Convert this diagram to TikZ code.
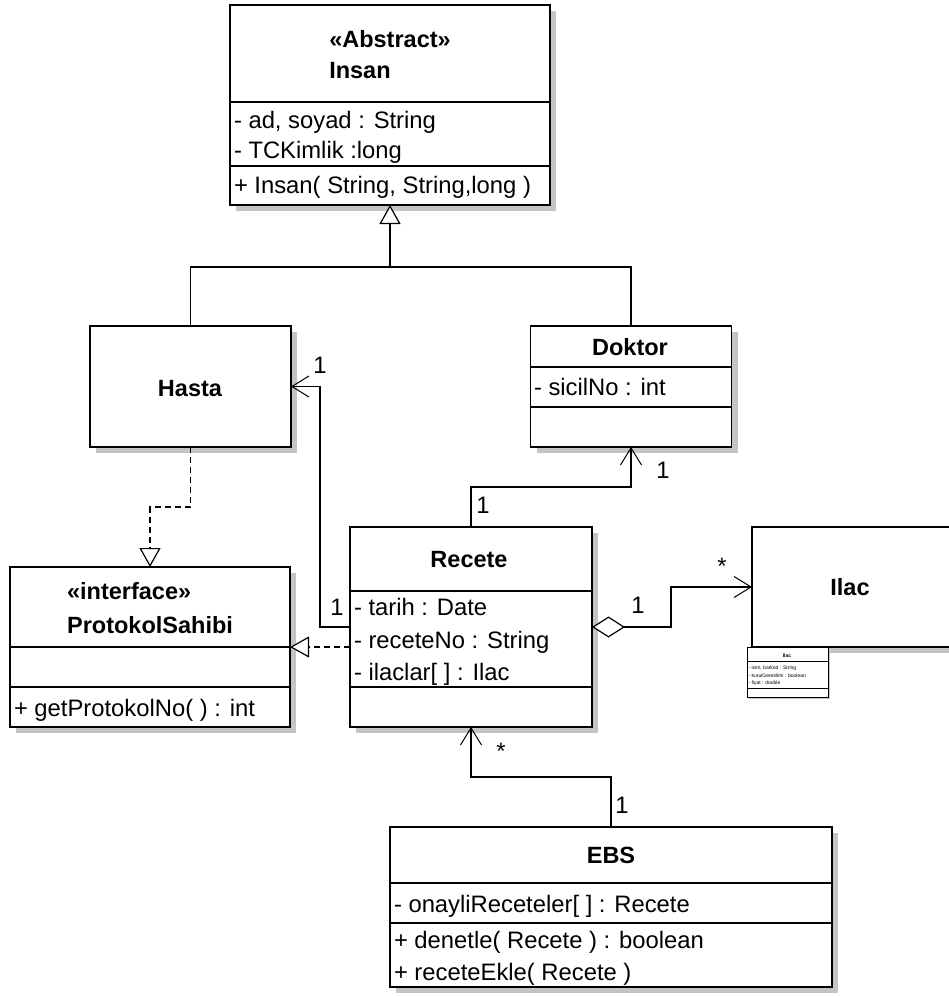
\documentclass[tikz,border=0pt]{standalone}
\usepackage{fontspec}
\setmainfont{Liberation Sans}
\usetikzlibrary{arrows.meta,shadows,calc}
\definecolor{shadowgray}{RGB}{196,196,196}
\tikzset{
  every node/.style={inner sep=0pt, outer sep=0pt},
  txt/.style={font=\fontsize{23.8}{27}\selectfont},
  hdr/.style={font=\bfseries\fontsize{23.5}{27}\selectfont},
  tiny/.style={font=\fontsize{5}{6}\selectfont},
  tinyb/.style={font=\bfseries\fontsize{5}{6}\selectfont},
  cls/.style={draw, line width=1.6pt, fill=white, rectangle,
    drop shadow={shadow xshift=6pt, shadow yshift=-6pt, fill=shadowgray, opacity=1}},
  divline/.style={line width=1.4pt},
  conn/.style={line width=1.3pt},
  dashconn/.style={line width=1.3pt, dash pattern=on 6pt off 4pt},
  navarrow/.style={-{Straight Barb[length=17pt,width=21pt,line width=1pt]}},
  genarrow/.style={-{Triangle[open,length=19pt,width=21pt,fill=white,line width=1.2pt]}},
  aggnav/.style={{Diamond[open,length=33pt,width=21pt,fill=white,line width=1.2pt]}-{Straight Barb[length=17pt,width=21pt,line width=1pt]}}
}
\begin{document}
\begin{tikzpicture}[x=1pt,y=-1pt]
\useasboundingbox (0,0) rectangle (948,996);

% ---------- boxes ----------
\node[cls, minimum width=320pt, minimum height=200pt] (insan) at (390,105) {};
\node[cls, minimum width=201pt, minimum height=121pt] (hasta) at (190.5,386.5) {};
\node[cls, minimum width=201pt, minimum height=121pt] (doktor) at (631,386.5) {};
\node[cls, minimum width=280pt, minimum height=160pt] (protokol) at (150,647) {};
\node[cls, minimum width=242pt, minimum height=200pt] (recete) at (471,627) {};
\node[cls, minimum width=204pt, minimum height=120pt] (ilac) at (854,587) {};
\node[cls, minimum width=442pt, minimum height=160pt] (ebs) at (611,907) {};
\node[draw, line width=0.7pt, fill=white, minimum width=81pt, minimum height=50pt,
  drop shadow={shadow xshift=2pt, shadow yshift=-2pt, fill=shadowgray, opacity=1}] (ilacmini) at (787.5,672) {};

% ---------- dividers ----------
\draw[divline] (insan.west |- 0,102) -- (insan.east |- 0,102);
\draw[divline] (insan.west |- 0,166) -- (insan.east |- 0,166);
\draw[divline] (doktor.west |- 0,367) -- (doktor.east |- 0,367);
\draw[divline] (doktor.west |- 0,407) -- (doktor.east |- 0,407);
\draw[divline] (protokol.west |- 0,647) -- (protokol.east |- 0,647);
\draw[divline] (protokol.west |- 0,687) -- (protokol.east |- 0,687);
\draw[divline] (recete.west |- 0,591) -- (recete.east |- 0,591);
\draw[divline] (recete.west |- 0,687) -- (recete.east |- 0,687);
\draw[divline] (ebs.west |- 0,883) -- (ebs.east |- 0,883);
\draw[divline] (ebs.west |- 0,923) -- (ebs.east |- 0,923);
\draw[line width=0.5pt] (ilacmini.west |- 0,661) -- (ilacmini.east |- 0,661);
\draw[line width=0.5pt] (ilacmini.west |- 0,688) -- (ilacmini.east |- 0,688);

% ---------- Insan ----------
\node[hdr, anchor=base] (abs) at (390,47) {«Abstract»};
\node[hdr, anchor=base west] (insanname) at ($(abs.base west)+(0,31)$) {Insan};
\node[txt, anchor=base west] (i1) at (234,128) {- ad, soyad : String};
\node[txt, anchor=base west] (i2) at (234,158) {- TCKimlik :long};
\node[txt, anchor=base west] (i3) at (234,193) {+ Insan( String, String,long )};

% ---------- Hasta ----------
\node[hdr, anchor=base] (hastaname) at (190,396) {Hasta};

% ---------- Doktor ----------
\node[hdr, anchor=base] (doktorname) at (630,355) {Doktor};
\node[txt, anchor=base west] (d1) at (534,395) {- sicilNo : int};

% ---------- ProtokolSahibi ----------
\node[hdr, anchor=base] (psname) at (150,633) {ProtokolSahibi};
\node[hdr, anchor=base west] (psst) at ($(psname.base west)+(0,-34)$) {«interface»};
\node[txt, anchor=base west] (p1) at (14,716) {+ getProtokolNo( ) : int};

% ---------- Recete ----------
\node[hdr, anchor=base] (recetename) at (469,567) {Recete};
\node[txt, anchor=base west] (r1) at (354,615) {- tarih : Date};
\node[txt, anchor=base west] (r2) at (354,648) {- receteNo : String};
\node[txt, anchor=base west] (r3) at (354,680) {- ilaclar[ ] : Ilac};

% ---------- Ilac ----------
\node[hdr, anchor=base] (ilacname) at (850,595) {Ilac};
\node[tinyb, anchor=base] (mininame) at (787,657) {Ilac};
\node[tiny, anchor=base west] (m1) at (748.5,669.5) {- isim, barkod : String};
\node[tiny, anchor=base west] (m2) at (748.5,677) {- kurulGereklimi : boolean};
\node[tiny, anchor=base west] (m3) at (748.5,684.5) {- fiyat : double};

% ---------- EBS ----------
\node[hdr, anchor=base] (ebsname) at (611,863) {EBS};
\node[txt, anchor=base west] (e1) at (394,912) {- onayliReceteler[ ] : Recete};
\node[txt, anchor=base west] (e2) at (394,948) {+ denetle( Recete ) : boolean};
\node[txt, anchor=base west] (e3) at (394,980) {+ receteEkle( Recete )};

% ---------- connectors ----------
% generalization Hasta/Doktor -> Insan
\coordinate (gj) at ($(insan.south)+(0,62)$);
\draw[conn] (hasta.north) |- (gj) -| (doktor.north);
\draw[conn, genarrow] (gj) -- (insan.south);

% realization Hasta -> ProtokolSahibi
\draw[dashconn, genarrow] (hasta.south) -- ++(0,60) -| (protokol.north);

% realization Recete -> ProtokolSahibi
\draw[dashconn, genarrow] (recete.west |- protokol.east) -- (protokol.east);

% association Recete -> Hasta
\draw[conn, navarrow] (recete.west) -- ++(-30,0) |- (hasta.east);
\node[txt, anchor=base] (l1) at (320,373) {1};
\node[txt, anchor=base] (l2) at (337,615) {1};

% association Recete -> Doktor
\draw[conn, navarrow] (recete.north) -- ++(0,-40) -| (doktor.south);
\node[txt, anchor=base] (l3) at (483,513) {1};
\node[txt, anchor=base] (l4) at (663,478) {1};

% aggregation Recete <>-> Ilac
\draw[conn, aggnav] (recete.east) -- ++(79,0) |- (ilac.west);
\node[txt, anchor=base] (l5) at (638,613) {1};
\node[txt, anchor=base] (l6) at (722,574) {*};

% association EBS -> Recete
\draw[conn, navarrow] (ebs.north) -- ++(0,-50) -| (recete.south);
\node[txt, anchor=base] (l7) at (501,759) {*};
\node[txt, anchor=base] (l8) at (622,813) {1};
\end{tikzpicture}
\end{document}
